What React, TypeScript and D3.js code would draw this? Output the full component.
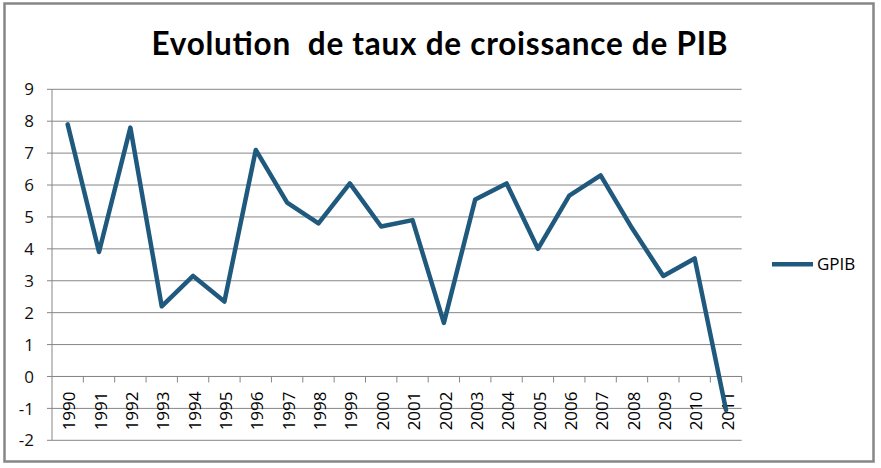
import React from "react";
import * as d3 from "d3";

const years: string[] = [
  "1990", "1991", "1992", "1993", "1994", "1995", "1996", "1997", "1998", "1999", "2000",
  "2001", "2002", "2003", "2004", "2005", "2006", "2007", "2008", "2009", "2010", "2011",
];
const gpib: number[] = [
  7.9, 3.9, 7.8, 2.2, 3.15, 2.35, 7.1, 5.45, 4.8, 6.05, 4.7,
  4.9, 1.68, 5.55, 6.05, 4.0, 5.67, 6.3, 4.65, 3.15, 3.7, -1.05,
];
const yTicks: number[] = [-2, -1, 0, 1, 2, 3, 4, 5, 6, 7, 8, 9];
const seriesName = "GPIB";
const title = "Evolution  de taux de croissance de PIB";

const W = 881;
const H = 468;
const plotLeft = 52;
const plotRight = 741.7;
const plotTop = 89.3;
const plotBottom = 440.3;
const LABEL_FONT = "'Open Sans', 'Noto Sans', sans-serif";
const TITLE_FONT = "Lato, 'Open Sans', sans-serif";
const LINE_COLOR = "#1f5a7e";
const GRID = "#868686";
const LABEL_SIZE = 17;

export default function App() {
  const x = d3.scaleBand<string>().domain(years).range([plotLeft, plotRight]).padding(0);
  const y = d3.scaleLinear().domain([-2, 9]).range([plotBottom, plotTop]);
  const cx = (d: string) => (x(d) as number) + x.bandwidth() / 2;
  const line = d3
    .line<number>()
    .x((_, i) => cx(years[i]))
    .y((v) => y(v));
  const y0 = y(0);
  const boundaries = d3.range(1, years.length + 1).map((i) => plotLeft + i * x.bandwidth());

  return (
    <svg
      width={W}
      height={H}
      style={{ position: "absolute", left: 0, top: 0, background: "#fff" }}
      fontFamily={LABEL_FONT}
    >
      <rect x={0} y={0} width={W} height={H} fill="#fff" />
      <rect x={4.5} y={3.5} width={869} height={458} fill="#fff" stroke={GRID} strokeWidth={2.5} />
      <text
        x={151.5}
        y={54.5}
        fontFamily={TITLE_FONT}
        fontSize={31.5}
        fontWeight="bold"
        fill="#000"
        textLength={576}
        lengthAdjust="spacing"
        style={{ whiteSpace: "pre" }}
      >
        {title}
      </text>
      {/* gridlines */}
      {yTicks.map((t) => (
        <g key={t}>
          <line x1={plotLeft - 5} x2={plotRight} y1={y(t)} y2={y(t)} stroke={GRID} strokeWidth={1} />
          <text x={34} y={y(t)} dy="0.36em" textAnchor="end" fontSize={LABEL_SIZE} fill="#111">
            {t}
          </text>
        </g>
      ))}
      {/* y axis */}
      <line x1={plotLeft} x2={plotLeft} y1={plotTop} y2={plotBottom} stroke={GRID} strokeWidth={1} />
      {/* x axis at 0 */}
      <line x1={plotLeft} x2={plotRight} y1={y0} y2={y0} stroke={GRID} strokeWidth={1} />
      {boundaries.map((bx, i) => (
        <line key={i} x1={bx} x2={bx} y1={y0} y2={y0 + 6} stroke={GRID} strokeWidth={1} />
      ))}
      {years.map((yr) => (
        <text
          key={yr}
          transform={`translate(${cx(yr) + 1.5},${y0 + 15}) rotate(-90)`}
          dy="0.36em"
          textAnchor="end"
          fontSize={LABEL_SIZE}
          fill="#000"
        >
          {yr}
        </text>
      ))}
      <path
        d={line(gpib) || ""}
        fill="none"
        stroke={LINE_COLOR}
        strokeWidth={4.5}
        strokeLinejoin="round"
        strokeLinecap="round"
      />
      {/* legend */}
      <line x1={772} x2={813} y1={264.3} y2={264.3} stroke={LINE_COLOR} strokeWidth={4.5} />
      <text x={817} y={264.3} dy="0.36em" fontSize={LABEL_SIZE} fill="#000">
        {seriesName}
      </text>
    </svg>
  );
}
